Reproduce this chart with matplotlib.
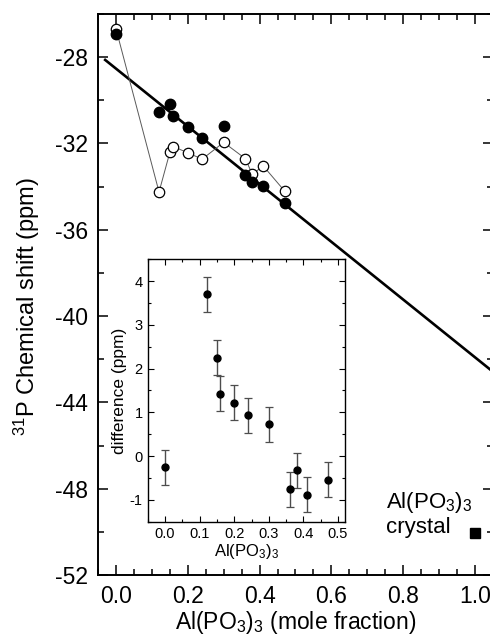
import matplotlib
matplotlib.use("Agg")
import matplotlib.pyplot as plt
from matplotlib.ticker import MultipleLocator

plt.rcParams["font.family"] = ["Liberation Sans", "DejaVu Sans"]
plt.rcParams["mathtext.fontset"] = "custom"
plt.rcParams["mathtext.rm"] = "Liberation Sans"
plt.rcParams["mathtext.it"] = "Liberation Sans:italic"
plt.rcParams["mathtext.bf"] = "Liberation Sans:bold"
plt.rcParams["axes.unicode_minus"] = False

# composition (mole fraction Al(PO3)3)
x_frac = [0.0, 0.12, 0.15, 0.16, 0.20, 0.24, 0.30, 0.36, 0.38, 0.41, 0.47]
# measured 31P shift (filled) and model shift (open), ppm
shift_meas = [-26.93, -30.53, -30.17, -30.71, -31.22, -31.73, -31.19,
              -33.47, -33.78, -33.97, -34.74]
shift_model = [-26.68, -34.25, -32.42, -32.15, -32.43, -32.73, -31.95,
               -32.70, -33.43, -33.04, -34.21]
# linear trend through the glass data
fit_x = [-0.03, 1.05]
fit_y = [-28.13, -42.58]
# crystalline Al(PO3)3 reference
crystal_x = [1.0]
crystal_y = [-50.06]

# inset: measured minus model
diff = [-0.25, 3.70, 2.25, 1.43, 1.22, 0.93, 0.73, -0.76, -0.32, -0.88, -0.54]
diff_err = [0.4] * len(diff)

fig = plt.figure(figsize=(4.9, 6.35), dpi=100)
ax = fig.add_axes([0.2, 0.0945, 0.806, 0.8835])

ax.plot(fit_x, fit_y, color="black", lw=1.9, zorder=2)
ax.plot(x_frac, shift_model, color="0.35", lw=0.7, marker="o", ms=7.5,
        mfc="white", mec="black", mew=0.9, zorder=3)
ax.plot(x_frac, shift_meas, ls="none", marker="o", ms=7.5,
        mfc="black", mec="black", zorder=4)
ax.plot(crystal_x, crystal_y, ls="none", marker="s", ms=7,
        mfc="black", mec="black", zorder=4)

ax.text(0.752, -48.65, r"Al(PO$_3$)$_3$", fontsize=16, va="center", ha="left")
ax.text(0.752, -49.8, "crystal", fontsize=16, va="center", ha="left")

ax.set_xlim(-0.05, 1.05)
ax.set_ylim(-52, -26)
ax.xaxis.set_major_locator(MultipleLocator(0.2))
ax.xaxis.set_minor_locator(MultipleLocator(0.05))
ax.yaxis.set_major_locator(MultipleLocator(4))
ax.yaxis.set_minor_locator(MultipleLocator(2))
ax.xaxis.set_major_formatter(plt.FormatStrFormatter("%.1f"))
ax.tick_params(which="both", direction="in", top=True, right=True,
               labelsize=16.5, width=1.1, pad=7)
ax.tick_params(which="major", length=7)
ax.tick_params(which="minor", length=4)
for sp in ax.spines.values():
    sp.set_linewidth(1.4)
ax.set_xlabel(r"Al(PO$_3$)$_3$ (mole fraction)", fontsize=16.5, labelpad=1)
ax.set_ylabel(r"$^{31}$P Chemical shift (ppm)", fontsize=17)
ax.yaxis.set_label_coords(-0.142, 0.478)

# inset with the shift difference
ins = fig.add_axes([0.3014, 0.1784, 0.4026, 0.4133])
ins.errorbar(x_frac, diff, yerr=diff_err, fmt="o", ms=5, color="black",
             ecolor="0.3", elinewidth=1.0, capsize=3, capthick=0.9)
ins.set_xlim(-0.05, 0.52)
ins.set_ylim(-1.5, 4.5)
ins.xaxis.set_major_locator(MultipleLocator(0.1))
ins.xaxis.set_minor_locator(MultipleLocator(0.05))
ins.yaxis.set_major_locator(MultipleLocator(1))
ins.yaxis.set_minor_locator(MultipleLocator(0.5))
ins.xaxis.set_major_formatter(plt.FormatStrFormatter("%.1f"))
ins.tick_params(which="both", direction="in", top=True, right=True,
                labelsize=10.5, width=0.8)
ins.tick_params(which="major", length=4)
ins.tick_params(which="minor", length=2.5)
for sp in ins.spines.values():
    sp.set_linewidth(1.0)
ins.set_xlabel(r"Al(PO$_3$)$_3$", fontsize=12, labelpad=1)
ins.set_ylabel("difference (ppm)", fontsize=12.5, labelpad=2)

fig.savefig("out.png", dpi=100)
